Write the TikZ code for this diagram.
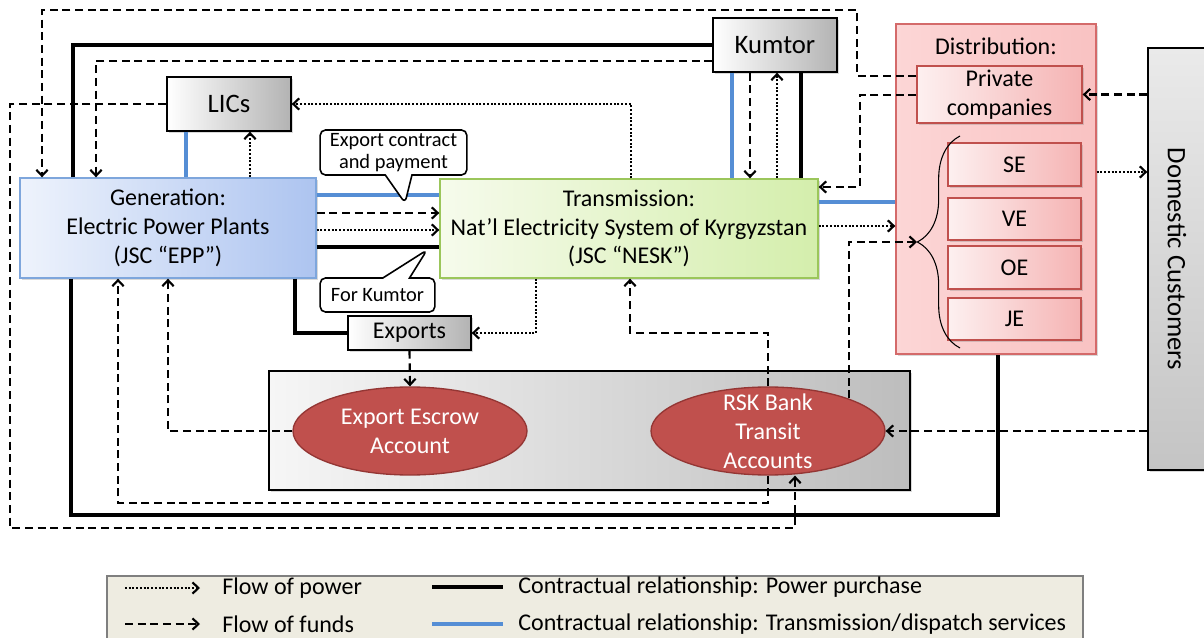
\documentclass[tikz,border=0pt]{standalone}
\usepackage{fontspec}
\setmainfont{Carlito}
\usepackage{tikz}
\usepackage{xcolor}
\usetikzlibrary{arrows.meta, positioning, shapes.geometric, shapes.callouts, shadows, decorations.pathreplacing}

\definecolor{genL}{HTML}{EEF3FC}
\definecolor{genR}{HTML}{ADC4F0}
\definecolor{genB}{HTML}{7EA6DC}
\definecolor{transL}{HTML}{F6FBEC}
\definecolor{transR}{HTML}{D4EEAC}
\definecolor{transB}{HTML}{9BC65B}
\definecolor{distL}{HTML}{FCD6D6}
\definecolor{distR}{HTML}{F9C2C2}
\definecolor{distB}{HTML}{D46A6A}
\definecolor{pinkL}{HTML}{FDF0F0}
\definecolor{pinkR}{HTML}{F5B3B3}
\definecolor{pinkB}{HTML}{C0504D}
\definecolor{ellF}{HTML}{C0504D}
\definecolor{ellB}{HTML}{943634}
\definecolor{grayR}{HTML}{B3B3B3}
\definecolor{domT}{HTML}{EAEAEA}
\definecolor{domB}{HTML}{C4C4C4}
\definecolor{accL}{HTML}{F6F6F6}
\definecolor{accR}{HTML}{BDBDBD}
\definecolor{legF}{HTML}{EEECE1}
\definecolor{legB}{HTML}{7F7F7F}
\definecolor{dispC}{HTML}{558ED5}

\begin{document}
\begin{tikzpicture}[x=0.75pt, y=-0.75pt, >={Straight Barb[length=4.5pt,width=8.5pt]}, semithick]
    \tikzstyle{shad}=[drop shadow={opacity=.3, shadow xshift=1.5pt, shadow yshift=-1.5pt}]
    \tikzstyle{purchase}=[line width=3pt, black]
    \tikzstyle{dispatch}=[line width=2.7pt, dispC]
    \tikzstyle{power}=[->, line width=1.6pt, dash pattern=on 1.5pt off 1.3pt]
    \tikzstyle{funds}=[->, line width=1.6pt, dash pattern=on 6pt off 3.5pt]
    \tikzstyle{bigbox}=[rectangle, line width=1pt, align=center, inner sep=3pt, font=\fontsize{18}{21.5}\selectfont, shad]
    \tikzstyle{genbox}=[bigbox, draw=genB, left color=genL, right color=genR]
    \tikzstyle{transbox}=[bigbox, draw=transB, left color=transL, right color=transR]
    \tikzstyle{graybox}=[bigbox, draw=black, left color=white, right color=grayR, font=\fontsize{20}{24}\selectfont]
    \tikzstyle{pinkbox}=[bigbox, draw=pinkB, left color=pinkL, right color=pinkR, minimum width=99.75pt]
    \tikzstyle{account}=[ellipse, draw=ellB, line width=1pt, fill=ellF, minimum width=175.5pt, minimum height=66pt, inner sep=0pt]
    \tikzstyle{acctext}=[text=white, align=center, font=\fontsize{18}{21.7}\selectfont]
    \tikzstyle{callbox}=[rectangle callout, draw, line width=1.2pt, fill=white, rounded corners=4pt, align=center, inner sep=2pt, callout pointer width=20pt, font=\fontsize{15.3}{17}\selectfont]
    \tikzstyle{legtxt}=[anchor=west, inner sep=0pt, font=\fontsize{18}{21}\selectfont]

    \path[use as bounding box, clip] (0,0) rectangle (1204,638);

    % boxes
    \node[genbox, minimum width=222pt, minimum height=75pt] (gen) at (168,228) {Generation:\\Electric Power Plants\\(JSC “EPP”)};
    \node[transbox, minimum width=283.5pt, minimum height=74.25pt] (trans) at (629,228.5) {Transmission:\\Nat’l Electricity System of Kyrgyzstan\\(JSC “NESK”)};
    \node[graybox, minimum width=93pt, minimum height=40.5pt] (lics) at (229,104) {LICs};
    \node[graybox, minimum width=93pt, minimum height=40.5pt] (kumtor) at (775,45) {Kumtor};
    \node[bigbox, draw=distB, left color=distL, right color=distR, minimum width=150pt, minimum height=247.5pt] (distr) at (996,189) {};
    \node[font=\fontsize{18}{21.5}\selectfont] (distlbl) at (996,46) {Distribution:};
    \node[pinkbox, minimum width=123.75pt, minimum height=42.75pt] (priv) at (999.5,94.5) {Private\\companies};
    \node[pinkbox, minimum height=32.25pt] (se) at (1014.5,164.5) {SE};
    \node[pinkbox, minimum height=31.5pt] (ve) at (1014.5,219) {VE};
    \node[pinkbox, minimum height=32.25pt] (oe) at (1014.5,267.5) {OE};
    \node[pinkbox, minimum height=31.5pt] (je) at (1014.5,319) {JE};
    \draw[line width=0.8pt, decorate, decoration={brace, amplitude=32pt}] (960,348) -- (960,136);
    \coordinate (bracetip) at (917,242);
    \node[bigbox, draw=black, top color=domT, bottom color=domB, minimum width=52.5pt, minimum height=316.5pt] (dom) at (1183,259) {};
    \node[rotate=-90, font=\fontsize{20}{24}\selectfont] (domtxt) at (1177,259) {Domestic Customers};
    \node[graybox, font=\fontsize{18}{21.5}\selectfont, minimum width=92.25pt, minimum height=25.5pt] (exports) at (409.5,333) {Exports};
    \node[bigbox, draw=black, left color=accL, right color=accR, minimum width=480.75pt, minimum height=89.25pt] (accbox) at (589.5,430.5) {};
    \node[account] (escrow) at (410,431) {};
    \node[acctext] (escrowtxt) at (escrow) {Export Escrow\\Account};
    \node[account] (rsk) at (768,431) {};
    \node[acctext] (rsktxt) at (rsk) {RSK Bank\\Transit\\Accounts};

    % generation -- transmission
    \draw[dispatch] (gen.east |- 0,195) -- (trans.west |- 0,195);
    \draw[funds] (gen.east |- 0,213) -- (trans.west |- 0,213);
    \draw[power] (gen.east |- 0,230) -- (trans.west |- 0,230);
    \draw[purchase] (gen.east |- 0,247) -- (trans.west |- 0,247);

    % LICs
    \draw[dispatch] (lics.south -| 186,0) -- (gen.north -| 186,0);
    \draw[power] (gen.north -| 250,0) -- (lics.south -| 250,0);
    \draw[power] (trans.north -| 631,0) |- (lics.east);
    \draw[funds] (lics.west) -| (10,528) -| (rsk.south -| 795,0);

    % Kumtor
    \draw[purchase] (gen.north -| 73,0) |- (kumtor.west);
    \draw[funds] (kumtor.west |- 0,61) -| (gen.north -| 96,0);
    \draw[dispatch] (kumtor.south -| 732,0) -- (trans.north -| 732,0);
    \draw[funds] (kumtor.south -| 750,0) -- (trans.north -| 750,0);
    \draw[power] (trans.north -| 777,0) -- (kumtor.south -| 777,0);
    \draw[purchase] (kumtor.south -| 801,0) -- (trans.north -| 801,0);

    % distribution
    \draw[funds] (priv.west |- 0,76) -| (857,10) -| (gen.north -| 42,0);
    \draw[funds] (priv.west |- 0,95) -| (860,187) -- (trans.east |- 0,187);
    \draw[dispatch] (trans.east |- 0,202) -- (distr.west |- 0,202);
    \draw[power] (trans.east |- 0,226) -- (distr.west |- 0,226);
    \draw[funds] (dom.west |- priv.east) -- (priv.east);
    \draw[power] (distr.east |- 0,172) -- (dom.west |- 0,172);
    \draw[funds] (dom.west |- rsk.east) -- (rsk.east);
    \draw[purchase] (gen.south -| 71,0) |- (998,515) -- (distr.south -| 998,0);

    % exports and accounts
    \draw[purchase] (gen.south -| 295,0) |- (exports.west);
    \draw[power] (trans.south -| 536,0) |- (exports.east);
    \draw[funds] (exports.south) -- (escrow.north);
    \draw[funds] (escrow.west) -| (gen.south -| 168,0);
    \draw[funds] (rsk.north) |- (630,333) -- (trans.south -| 630,0);
    \draw[funds] (rsk.south) |- (118,503) -- (gen.south -| 118,0);
    \draw[funds] (rsk.22) |- (bracetip);

    % callouts
    \node[callbox, minimum width=110pt, minimum height=33.75pt, callout absolute pointer={(405,203)}] (expcall) at (393.5,152.5) {Export contract\\and payment};
    \node[callbox, minimum width=86pt, minimum height=25.5pt, callout absolute pointer={(427,250)}] (kumcall) at (377.5,295) {For Kumtor};

    % legend
    \node[draw=legB, line width=1pt, fill=legF, minimum width=732pt, minimum height=51.75pt] (legend) at (595,610.5) {};
    \node[legtxt] (lpow) at (222,588) {Flow of power};
    \node[legtxt] (lfund) at (222,624) {Flow of funds};
    \node[legtxt] (lpur) at (518,587) {Contractual relationship: Power purchase};
    \node[legtxt] (ldisp) at (518,624) {Contractual relationship: Transmission/dispatch services};
    \draw[power] (lpow.west) ++(-97,0) -- ++(75,0);
    \draw[funds] (lfund.west) ++(-97,0) -- ++(75,0);
    \draw[purchase, line width=3.2pt] (lpur.west) ++(-86,0) -- ++(71,0);
    \draw[dispatch, line width=3.2pt] (ldisp.west) ++(-86,0) -- ++(71,0);
\end{tikzpicture}
\end{document}
